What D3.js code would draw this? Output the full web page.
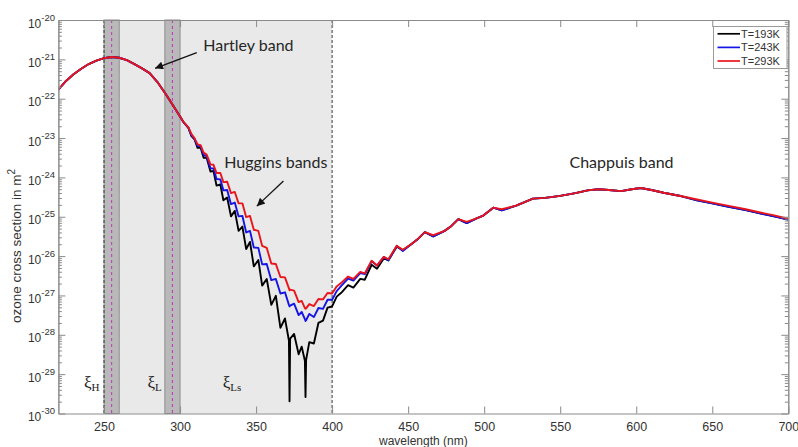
<!DOCTYPE html>
<html><head><meta charset="utf-8">
<script src="https://cdn.jsdelivr.net/npm/d3@7"></script>
<style>body{margin:0;background:#fff;}svg{display:block;}</style>
</head><body>
<svg id="c" width="798" height="447"></svg>
<script>
// ---- data (wavelength in nm, cross section in m^2) ----
const wavelength = [220,225,230,235,240,245,250,255,260,265,270,275,280,285,290,295,300,302,
 305.5,307.5,309.5,311.5,313.5,315.5,317.5,320,322,324,326.5,328.5,331,333.5,336,338.5,341,343.5,346,348.5,351.5,354,357,360,363,366,369,371.6,372,372.4,375,378,380,382.1,382.5,382.9,385,388,391,394,397,400,403,
 406,410.5,414,418.5,421.5,426,429.5,434,437,442.5,446.5,452,456,461,466.5,474,478,483,488.5,495,499,506,511.5,521,527,532,540,550,560,568,575,582,590,597,603,610,618,630,640,650,660,672,680,690,700];

const sigma293 = [1.70e-22,2.82e-22,4.17e-22,5.75e-22,7.59e-22,9.33e-22,1.07e-21,1.15e-21,1.10e-21,9.55e-22,7.59e-22,5.89e-22,4.47e-22,2.69e-22,1.41e-22,7.08e-23,3.55e-23,2.63e-23,
 1.86e-23,1.26e-23,1.00e-23,6.92e-24,6.61e-24,4.27e-24,3.80e-24,2.14e-24,2.09e-24,1.29e-24,1.29e-24,7.59e-25,7.76e-25,3.98e-25,4.27e-25,2.19e-25,2.19e-25,9.77e-26,1.05e-25,4.68e-26,4.37e-26,1.82e-26,1.62e-26,6.46e-27,6.31e-27,2.95e-27,2.88e-27,1.51e-27,1.35e-27,1.41e-27,1.32e-27,6.76e-28,7.24e-28,4.79e-28,4.57e-28,4.68e-28,6.03e-28,5.37e-28,8.13e-28,7.94e-28,1.15e-27,1.12e-27,1.70e-27,
 2.09e-27,3.02e-27,2.63e-27,3.98e-27,3.63e-27,7.59e-27,5.75e-27,9.55e-27,8.32e-27,1.82e-26,1.45e-26,2.00e-26,2.63e-26,4.07e-26,3.39e-26,4.37e-26,5.62e-26,8.71e-26,7.41e-26,9.12e-26,1.05e-25,1.70e-25,1.55e-25,1.91e-25,2.40e-25,2.88e-25,3.02e-25,3.39e-25,3.98e-25,4.68e-25,5.01e-25,4.79e-25,4.47e-25,5.01e-25,5.37e-25,4.79e-25,4.07e-25,3.31e-25,2.75e-25,2.29e-25,1.91e-25,1.55e-25,1.32e-25,1.10e-25,8.91e-26];

const sigma243 = [1.70e-22,2.82e-22,4.17e-22,5.75e-22,7.59e-22,9.33e-22,1.07e-21,1.15e-21,1.10e-21,9.55e-22,7.59e-22,5.89e-22,4.47e-22,2.69e-22,1.41e-22,7.08e-23,3.55e-23,2.63e-23,
 1.82e-23,1.17e-23,9.55e-24,6.31e-24,6.17e-24,3.72e-24,3.47e-24,1.70e-24,1.70e-24,9.12e-25,8.91e-25,4.68e-25,4.79e-25,2.09e-25,2.29e-25,1.02e-25,1.05e-25,3.98e-26,4.37e-26,1.66e-26,1.62e-26,6.17e-27,6.31e-27,2.45e-27,2.63e-27,1.12e-27,1.20e-27,5.75e-28,5.25e-28,5.50e-28,6.17e-28,3.16e-28,3.80e-28,2.51e-28,2.24e-28,2.34e-28,3.39e-28,2.82e-28,4.79e-28,4.57e-28,7.76e-28,7.76e-28,1.29e-27,
 1.74e-27,2.69e-27,2.40e-27,3.72e-27,3.47e-27,7.41e-27,5.75e-27,9.55e-27,7.80e-27,1.82e-26,1.35e-26,2.00e-26,2.63e-26,4.07e-26,3.15e-26,4.37e-26,5.62e-26,8.71e-26,6.90e-26,9.12e-26,1.05e-25,1.70e-25,1.45e-25,1.91e-25,2.40e-25,2.88e-25,3.02e-25,3.39e-25,3.98e-25,4.68e-25,5.01e-25,4.79e-25,4.47e-25,5.01e-25,5.37e-25,4.79e-25,4.07e-25,3.31e-25,2.61e-25,2.18e-25,1.81e-25,1.47e-25,1.25e-25,1.04e-25,8.46e-26];

const sigma193 = [1.70e-22,2.82e-22,4.17e-22,5.75e-22,7.59e-22,9.33e-22,1.07e-21,1.15e-21,1.10e-21,9.55e-22,7.59e-22,5.89e-22,4.47e-22,2.69e-22,1.41e-22,7.08e-23,3.55e-23,2.63e-23,
 1.82e-23,1.12e-23,9.33e-24,5.62e-24,5.75e-24,3.16e-24,3.16e-24,1.41e-24,1.45e-24,6.17e-25,6.61e-25,2.63e-25,3.09e-25,1.02e-25,1.41e-25,4.37e-26,5.62e-26,1.51e-26,2.29e-26,5.50e-27,7.94e-27,1.78e-27,2.63e-27,5.75e-28,9.77e-28,1.50e-28,2.60e-28,7.10e-29,2.04e-30,8.00e-29,1.05e-28,3.20e-29,5.00e-29,2.20e-29,2.63e-30,2.30e-29,6.50e-29,6.00e-29,2.00e-28,2.29e-28,4.90e-28,5.25e-28,9.33e-28,
 1.17e-27,1.82e-27,1.58e-27,2.63e-27,2.51e-27,6.03e-27,4.79e-27,8.71e-27,7.76e-27,1.74e-26,1.41e-26,2.00e-26,2.63e-26,4.07e-26,3.15e-26,4.37e-26,5.62e-26,8.71e-26,6.90e-26,9.12e-26,1.05e-25,1.70e-25,1.45e-25,1.91e-25,2.40e-25,2.88e-25,3.02e-25,3.39e-25,3.98e-25,4.68e-25,5.01e-25,4.79e-25,4.47e-25,5.01e-25,5.37e-25,4.79e-25,4.07e-25,3.31e-25,2.61e-25,2.18e-25,1.81e-25,1.47e-25,1.25e-25,1.04e-25,8.46e-26];

const seriesNames = ["T=193K","T=243K","T=293K"];
const xTickValues = [250,300,350,400,450,500,550,600,650,700];
const yTickExponents = [-30,-29,-28,-27,-26,-25,-24,-23,-22,-21,-20];
const shadedRange = [250,400];
const xiBands = [[250,260],[290,300]];
const xiCenters = [255,295];
const dashedEdges = [250,400];
const bandLabels = [
  {text:"Hartley band", nm:315.3, val:2.3e-21},
  {text:"Huggins bands", nm:329.1, val:2.45e-24},
  {text:"Chappuis band", nm:556.1, val:2.45e-24}
];
const arrows = [
  {fromNm:311, fromVal:1.48e-21, toNm:283.6, toVal:5.9e-22},
  {fromNm:368, fromVal:8.1e-25, toNm:350.5, toVal:1.86e-25}
];
const xiLabels = [
  {main:"ξ", sub:"H", nm:236.8, val:4.5e-30},
  {main:"ξ", sub:"L", nm:278.6, val:4.5e-30},
  {main:"ξ", sub:"Ls", nm:328.0, val:4.5e-30}
];

// ---- drawing ----
const L=58.4, R=788.3, T=20, B=413.5;
const x = d3.scaleLinear().domain([220,700]).range([L,R]);
const y = d3.scaleLog().domain([1e-30,1e-20]).range([B,T]);
const svg = d3.select("#c");
const axisCol="#8a8a8a", textCol="#333", sans="'Liberation Sans', Arial, Helvetica, sans-serif";

svg.append("defs").html(
 '<clipPath id="clip"><rect x="'+L+'" y="'+T+'" width="'+(R-L)+'" height="'+(B-T)+'"/></clipPath>'+
 '<marker id="arr" viewBox="0 0 10 10" refX="10" refY="5" markerWidth="11" markerHeight="8" markerUnits="userSpaceOnUse" orient="auto"><path d="M0,0L10,5L0,10z" fill="#111"/></marker>');

svg.append("rect").attr("x",x(shadedRange[0])).attr("y",T)
  .attr("width",x(shadedRange[1])-x(shadedRange[0])).attr("height",B-T).attr("fill","#e9e9e9");
xiBands.forEach(b=>{
  svg.append("rect").attr("x",x(b[0])).attr("y",T).attr("width",x(b[1])-x(b[0])).attr("height",B-T)
   .attr("fill","#b9b9b9").attr("stroke","#8e8e8e").attr("stroke-width",1);
});
xiCenters.forEach(c=>{
  svg.append("line").attr("x1",x(c)).attr("x2",x(c)).attr("y1",T).attr("y2",B)
   .attr("stroke","#c23cc2").attr("stroke-width",1.1).attr("stroke-dasharray","3,3");
});
dashedEdges.forEach(c=>{
  svg.append("line").attr("x1",x(c)).attr("x2",x(c)).attr("y1",T).attr("y2",B)
   .attr("stroke","#3a3a3a").attr("stroke-width",1).attr("stroke-dasharray","3,2");
});

// curves
const line = d3.line().x((d,i)=>x(wavelength[i])).y(d=>y(d));
const series = [{v:sigma193,c:"#000000"},{v:sigma243,c:"#1414e6"},{v:sigma293,c:"#e8161c"}];
const cg = svg.append("g").attr("clip-path","url(#clip)");
series.forEach(s=>{
  cg.append("path").attr("d",line(s.v)).attr("fill","none").attr("stroke",s.c)
   .attr("stroke-width",1.9).attr("stroke-linejoin","round");
});

// axes
function styleAxis(g){
  g.select(".domain").attr("stroke",axisCol);
  g.selectAll(".tick line").attr("stroke",axisCol);
  g.selectAll("text").attr("fill",textCol).attr("font-family",sans).attr("font-size","12.5px");
}
svg.append("g").attr("transform",`translate(0,${B})`)
  .call(d3.axisBottom(x).tickValues(xTickValues).tickSizeInner(-7).tickSizeOuter(0).tickPadding(8.5)).call(styleAxis);
svg.append("g").attr("transform",`translate(0,${T})`)
  .call(d3.axisTop(x).tickValues(xTickValues).tickSizeInner(-7).tickSizeOuter(0).tickFormat("")).call(styleAxis);
const majors = yTickExponents.map(e=>Math.pow(10,e));
const minors = [];
yTickExponents.slice(0,-1).forEach(e=>{ for(let k=2;k<=9;k++) minors.push(k*Math.pow(10,e)); });
[[d3.axisLeft,L],[d3.axisRight,R]].forEach(([ax,pos])=>{
  svg.append("g").attr("transform",`translate(${pos},0)`)
    .call(ax(y).tickValues(majors).tickSizeInner(-7).tickSizeOuter(0).tickFormat("")).call(styleAxis);
  svg.append("g").attr("transform",`translate(${pos},0)`)
    .call(ax(y).tickValues(minors).tickSizeInner(-3.5).tickSizeOuter(0).tickFormat("")).call(styleAxis);
});
yTickExponents.forEach(e=>{
  const t = svg.append("text").attr("x",55).attr("y",y(Math.pow(10,e))+7.5)
    .attr("text-anchor","end").attr("fill",textCol).attr("font-family",sans).attr("font-size","12px");
  t.append("tspan").text("10");
  t.append("tspan").attr("dy",-7).attr("font-size","9.5px").text(String(e));
});

// axis titles
svg.append("text").attr("x",(L+R)/2).attr("y",445).attr("text-anchor","middle")
  .attr("fill",textCol).attr("font-family",sans).attr("font-size","12px").text("wavelength (nm)");
const yl = svg.append("text").attr("transform","translate(21,246) rotate(-90)").attr("text-anchor","middle")
  .attr("fill",textCol).attr("font-family",sans).attr("font-size","13.5px");
yl.append("tspan").text("ozone cross section in m");
yl.append("tspan").attr("dy",-6).attr("font-size","10px").text("2");

// annotations
bandLabels.forEach(a=>{
  svg.append("text").attr("x",x(a.nm)).attr("y",y(a.val)).attr("dy","0.36em")
   .attr("fill","#262626").attr("font-family","Lato, 'Open Sans', sans-serif").attr("font-size","16px").text(a.text);
});
arrows.forEach(a=>{
  svg.append("line").attr("x1",x(a.fromNm)).attr("y1",y(a.fromVal)).attr("x2",x(a.toNm)).attr("y2",y(a.toVal))
   .attr("stroke","#111").attr("stroke-width",1.3).attr("marker-end","url(#arr)");
});
xiLabels.forEach(a=>{
  const t = svg.append("text").attr("x",x(a.nm)).attr("y",y(a.val)).attr("fill","#222")
   .attr("font-family","'Liberation Serif','Times New Roman',serif").attr("font-size","17px");
  t.append("tspan").text(a.main);
  t.append("tspan").attr("dy",3).attr("font-size","11px").text(a.sub);
});

// legend
const lg = svg.append("g");
lg.append("rect").attr("x",713.5).attr("y",26.5).attr("width",73.5).attr("height",42)
  .attr("fill","#fff").attr("stroke","#9a9a9a").attr("stroke-width",1);
seriesNames.forEach((n,i)=>{
  const yy = 33.8 + i*13.6;
  lg.append("line").attr("x1",717.5).attr("x2",740).attr("y1",yy).attr("y2",yy)
    .attr("stroke",series[i].c).attr("stroke-width",1.7);
  lg.append("text").attr("x",741).attr("y",yy).attr("dy","0.36em").attr("fill",textCol)
    .attr("font-family",sans).attr("font-size","11px").text(n);
});
</script>
</body></html>
